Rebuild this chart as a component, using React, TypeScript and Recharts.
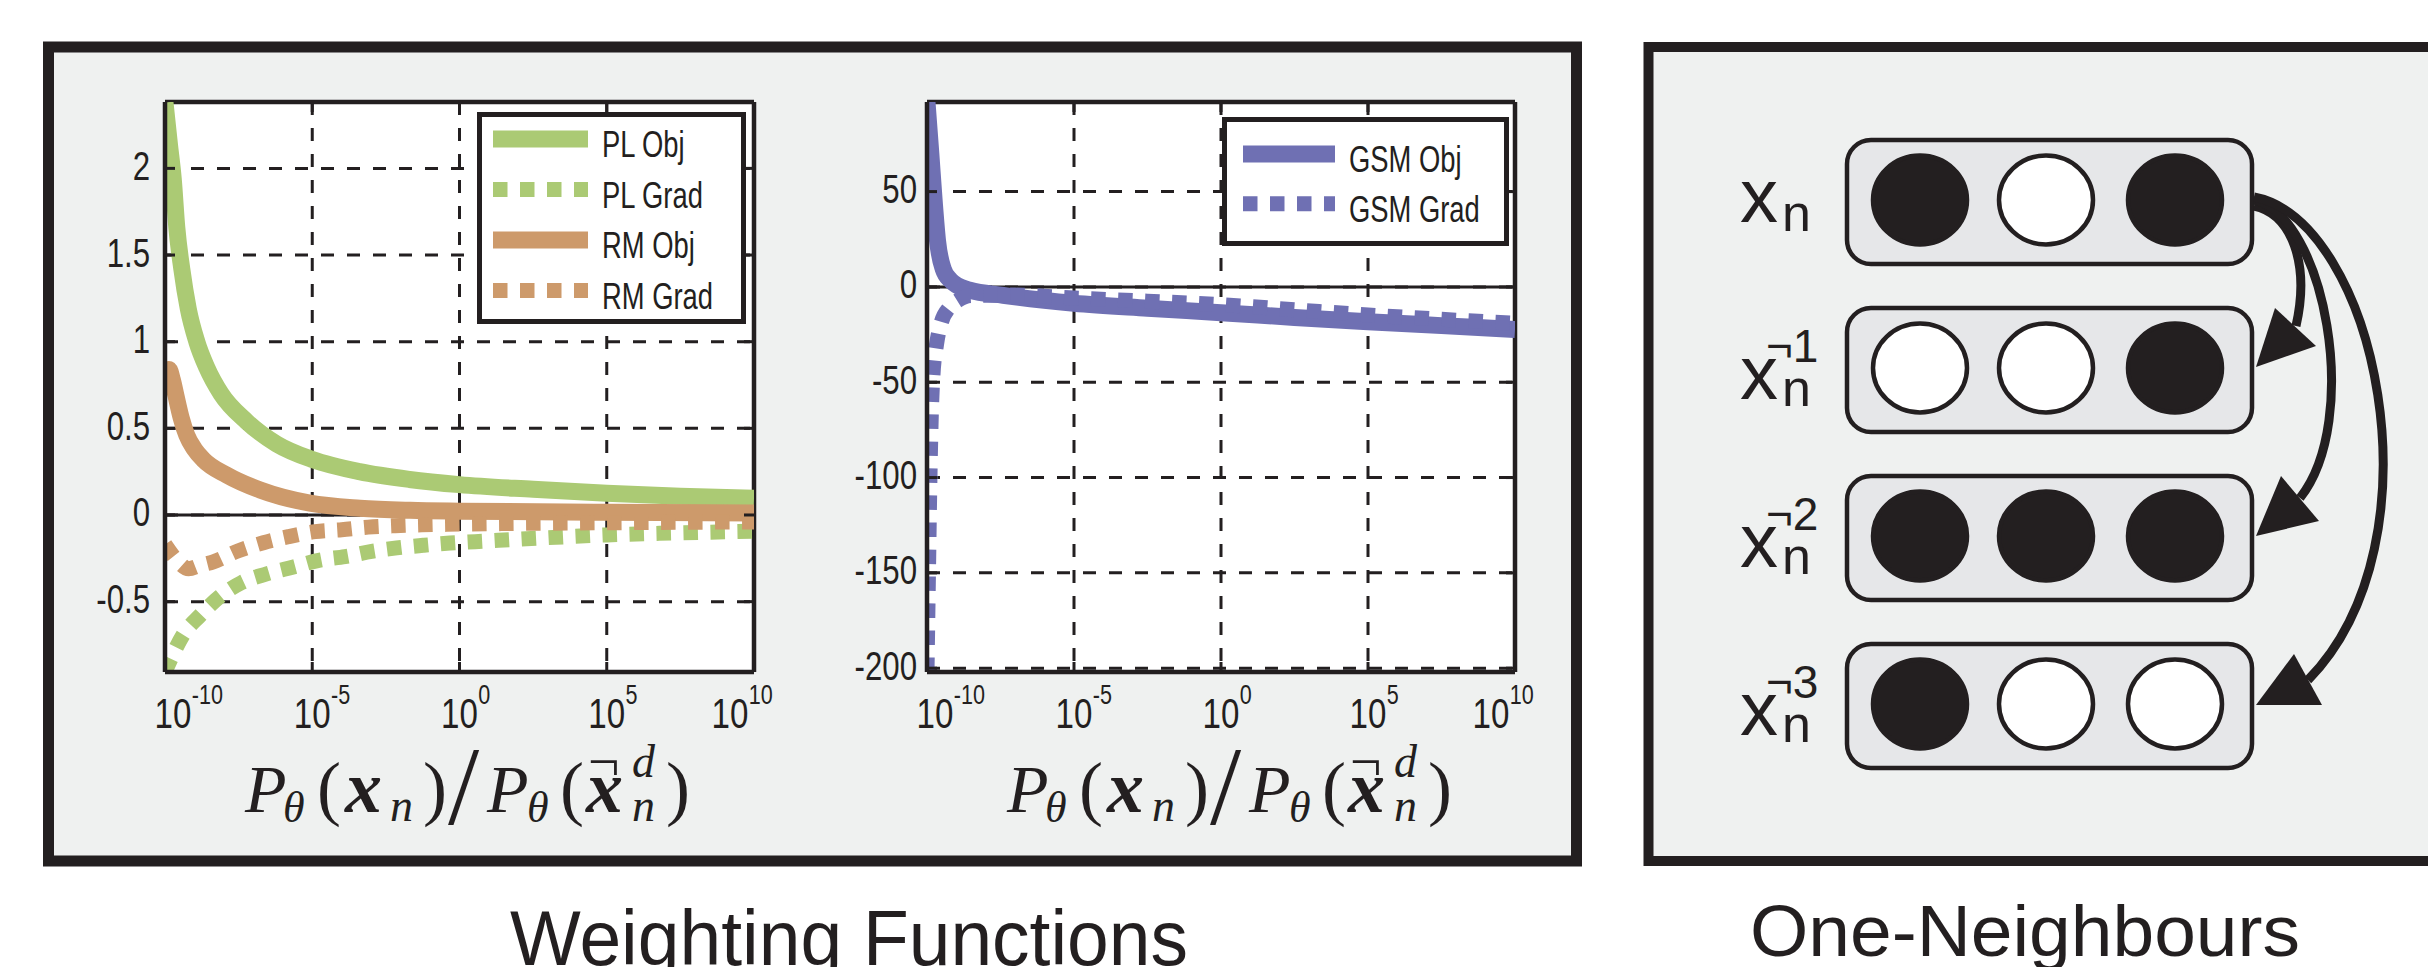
import React from 'react';
import { CartesianGrid, Legend, Line, LineChart, ReferenceLine, XAxis, YAxis } from 'recharts';

const INK = '#231f20';
const PANEL = '#eff1f0';
const BOX = '#e6e7e9';
const GREEN = '#abca74';
const BROWN = '#cd9a6b';
const PURPLE = '#6f70b3';
const SANS = "'Liberation Sans', Arial, sans-serif";
const SERIF = "'Liberation Serif', 'Times New Roman', serif";
const DOT = '14.5 12.5';
const SOLID_W = 17;
const DOT_W = 15;

// x is the exponent of the ratio, shown as 10^x
const xTicks = [-10, -5, 0, 5, 10];
const xTickLabels = ['-10', '-5', '0', '5', '10'];

const weightTicks = [-0.5, 0, 0.5, 1, 1.5, 2];
const weightDomain = [-0.906, 2.383];
const gsmTicks = [-200, -150, -100, -50, 0, 50];
const gsmDomain = [-202, 97];

const plObj = [
  [-10, 2.38], [-9.85, 2.14], [-9.72, 1.94], [-9.6, 1.66], [-9.43, 1.42], [-9.21, 1.19],
  [-8.92, 1.0], [-8.58, 0.85], [-8.1, 0.7], [-7.23, 0.54], [-6.21, 0.41], [-5, 0.32],
  [-3.4, 0.25], [-1.7, 0.205], [0, 0.175], [2.5, 0.148], [5, 0.125], [7.5, 0.108], [10, 0.096],
];
const plGrad = [
  [-10, -0.906], [-9.8, -0.83], [-9.38, -0.69], [-8.81, -0.58], [-8.13, -0.47], [-7.4, -0.39],
  [-6.55, -0.34], [-5.64, -0.3], [-4.74, -0.26], [-3.89, -0.24], [-2.98, -0.21], [-2.13, -0.19],
  [-1.23, -0.175], [-0.32, -0.162], [0.53, -0.154], [2.75, -0.133], [5, -0.115], [7.5, -0.103], [10, -0.094],
];
const rmObj = [
  [-10, 0.77], [-9.87, 0.84], [-9.75, 0.78], [-9.63, 0.69], [-9.45, 0.56], [-9.26, 0.46],
  [-9.0, 0.38], [-8.7, 0.32], [-7.9, 0.23], [-6.77, 0.144], [-5.08, 0.068], [-3.38, 0.039],
  [-1.68, 0.027], [0, 0.022], [5, 0.016], [10, 0.012],
];
const rmGrad = [
  [-10, -0.17], [-9.6, -0.26], [-9.2, -0.31], [-8.8, -0.29], [-8.36, -0.27], [-7.56, -0.21],
  [-6.66, -0.16], [-5.81, -0.125], [-4.9, -0.096], [-4.0, -0.085], [-3.1, -0.07], [-2.19, -0.062],
  [-1.28, -0.057], [-0.43, -0.054], [2.5, -0.048], [5, -0.045], [7.5, -0.042], [10, -0.04],
];
const gsmObj = [
  [-10, 97], [-9.87, 70], [-9.76, 46], [-9.64, 24], [-9.45, 9.5], [-9.2, 3.5], [-9, 1],
  [-8.55, -1.7], [-7.41, -4.4], [-5, -8.6], [-2.5, -11.2], [0, -13.5], [2.5, -16], [5, -18.3],
  [7.5, -20.3], [10, -22.3],
];
const gsmGrad = [
  [-10, -202], [-9.95, -150], [-9.9, -100], [-9.85, -65], [-9.8, -47], [-9.68, -30.6],
  [-9.51, -18.4], [-9.25, -11], [-8.94, -7], [-8.5, -4.5], [-7, -4.3], [-5, -5.8], [-2.5, -7.5],
  [0, -9.3], [2.5, -12], [5, -14.7], [7.5, -17], [10, -19.1],
];

// one-neighbour diagram: 1 = filled unit
const neighbourRows = [
  [1, 0, 1],
  [0, 0, 1],
  [1, 1, 1],
  [1, 0, 0],
];
const neighbourSups = ['', '¬1', '¬2', '¬3'];

const pts = (rows: number[][]) => rows.map(([e, v]) => ({ e, v }));

type Series = { name: string; color: string; dashed: boolean; data: { e: number; v: number }[] };

const weightSeries: Series[] = [
  { name: 'PL Obj', color: GREEN, dashed: false, data: pts(plObj) },
  { name: 'PL Grad', color: GREEN, dashed: true, data: pts(plGrad) },
  { name: 'RM Obj', color: BROWN, dashed: false, data: pts(rmObj) },
  { name: 'RM Grad', color: BROWN, dashed: true, data: pts(rmGrad) },
];
const gsmSeries: Series[] = [
  { name: 'GSM Obj', color: PURPLE, dashed: false, data: pts(gsmObj) },
  { name: 'GSM Grad', color: PURPLE, dashed: true, data: pts(gsmGrad) },
];

const PLOT_W = 589;
const PLOT_H = 570;

const XTick = (props: any) => {
  const { x, y, payload } = props;
  const v = payload.value;
  const shift = v === -10 ? 8 : v === 10 ? -24 : 0;
  const label = xTickLabels[xTicks.indexOf(v)];
  return (
    <g>
      <line x1={x} x2={x} y1={y} y2={y - 10} stroke={INK} strokeWidth={3} />
      <line x1={x} x2={x} y1={y - PLOT_H} y2={y - PLOT_H + 10} stroke={INK} strokeWidth={3} />
      <g transform={`translate(${x + shift} ${y + 56}) scale(0.77 1)`} fontFamily={SANS} fill={INK}>
        <text textAnchor="middle" fontSize={43}>10</text>
        <text x={24.5} y={-24} fontSize={28}>{label}</text>
      </g>
    </g>
  );
};

const makeYTick = (gap: number) => (props: any) => {
  const { x, y, payload } = props;
  return (
    <g>
      <line x1={x} x2={x + 10} y1={y} y2={y} stroke={INK} strokeWidth={3} />
      <line x1={x + PLOT_W - 10} x2={x + PLOT_W} y1={y} y2={y} stroke={INK} strokeWidth={3} />
      <text
        transform={`translate(${x - gap} ${y + 11.5}) scale(0.78 1)`}
        textAnchor="end"
        fontSize={40}
        fontFamily={SANS}
        fill={INK}
      >
        {String(payload.value)}
      </text>
    </g>
  );
};

type LegendLayout = { w: number; h: number; x0: number; x1: number; y0: number; step: number; tx: number };

const LegendPanel = ({ items, lay }: { items: Series[]; lay: LegendLayout }) => (
  <svg width={lay.w} height={lay.h} style={{ display: 'block' }}>
    <rect x={2.5} y={2.5} width={lay.w - 5} height={lay.h - 5} fill="#fff" stroke={INK} strokeWidth={5} />
    {items.map((s, i) => {
      const y = lay.y0 + i * lay.step;
      return (
        <g key={s.name}>
          <line
            x1={lay.x0}
            x2={lay.x1}
            y1={y}
            y2={y}
            stroke={s.color}
            strokeWidth={s.dashed ? DOT_W : SOLID_W}
            strokeDasharray={s.dashed ? DOT : undefined}
          />
          <text
            transform={`translate(${lay.tx} ${y + 18}) scale(0.74 1)`}
            fontSize={37}
            fontFamily={SANS}
            fill={INK}
          >
            {s.name}
          </text>
        </g>
      );
    })}
  </svg>
);

type PanelProps = {
  left: number;
  marginLeft: number;
  marginRight: number;
  series: Series[];
  domain: number[];
  ticks: number[];
  gap: number;
  legendPos: { left: number; top: number };
  lay: LegendLayout;
};

const Panel = ({ left, marginLeft, marginRight, series, domain, ticks, gap, legendPos, lay }: PanelProps) => (
  <div style={{ position: 'absolute', left, top: 0 }}>
    <LineChart width={800} height={760} margin={{ top: 102, right: marginRight, bottom: 8, left: marginLeft }}>
      <CartesianGrid stroke={INK} strokeWidth={3} strokeDasharray="13 13" fill="#ffffff" fillOpacity={1} />
      <XAxis
        dataKey="e"
        type="number"
        domain={[-10, 10]}
        ticks={xTicks}
        interval={0}
        allowDataOverflow
        height={80}
        axisLine={{ stroke: INK, strokeWidth: 4.5 }}
        tickLine={false}
        tickSize={0}
        tickMargin={0}
        tick={XTick}
      />
      <YAxis
        type="number"
        domain={domain}
        ticks={ticks}
        interval={0}
        allowDataOverflow
        width={100}
        axisLine={{ stroke: INK, strokeWidth: 4.5 }}
        tickLine={false}
        tickSize={0}
        tickMargin={0}
        tick={makeYTick(gap)}
      />
      <ReferenceLine y={0} stroke={INK} strokeWidth={3} />
      <ReferenceLine y={domain[1]} stroke={INK} strokeWidth={4.5} />
      <ReferenceLine x={10} stroke={INK} strokeWidth={4.5} />
      {series.map((s) => (
        <Line
          key={s.name}
          name={s.name}
          data={s.data}
          dataKey="v"
          type="monotone"
          stroke={s.color}
          strokeWidth={s.dashed ? DOT_W : SOLID_W}
          strokeDasharray={s.dashed ? DOT : undefined}
          strokeLinecap="butt"
          strokeLinejoin="round"
          dot={false}
          activeDot={false}
          isAnimationActive={false}
        />
      ))}
      <Legend
        layout="horizontal"
        verticalAlign="middle"
        align="center"
        wrapperStyle={{ left: legendPos.left, top: legendPos.top, width: lay.w, height: lay.h }}
        content={() => <LegendPanel items={series} lay={lay} />}
      />
    </LineChart>
  </div>
);

const RatioLabel = ({ x0 }: { x0: number }) => (
  <g fill={INK} fontFamily={SERIF}>
    <text x={x0} y={812} fontSize={68} fontStyle="italic">P</text>
    <text x={x0 + 38} y={822} fontSize={44} fontStyle="italic">θ</text>
    <text x={x0 + 72} y={812} fontSize={72}>(</text>
    <text x={x0 + 100} y={812} fontSize={74} fontStyle="italic" fontWeight="bold">x</text>
    <text x={x0 + 145} y={821} fontSize={46} fontStyle="italic">n</text>
    <text x={x0 + 178} y={812} fontSize={72}>)</text>
    <text x={x0 + 203} y={824} fontSize={112}>/</text>
    <text x={x0 + 242} y={812} fontSize={68} fontStyle="italic">P</text>
    <text x={x0 + 282} y={822} fontSize={44} fontStyle="italic">θ</text>
    <text x={x0 + 315} y={812} fontSize={72}>(</text>
    <text x={x0 + 341} y={812} fontSize={74} fontStyle="italic" fontWeight="bold">x</text>
    <text x={x0 + 343} y={781} fontSize={56}>¬</text>
    <text x={x0 + 387} y={777} fontSize={46} fontStyle="italic">d</text>
    <text x={x0 + 387} y={821} fontSize={46} fontStyle="italic">n</text>
    <text x={x0 + 421} y={812} fontSize={72}>)</text>
  </g>
);

const rowCenters = [202, 370, 538, 706];
const unitX = [1920, 2046, 2175];

const Neighbours = () => (
  <g>
    {neighbourRows.map((row, r) => {
      const cy = rowCenters[r];
      const sup = neighbourSups[r];
      return (
        <g key={r}>
          <rect x={1847} y={cy - 62} width={405} height={124} rx={24} fill={BOX} stroke={INK} strokeWidth={4.5} />
          {row.map((on, c) => (
            <ellipse
              key={c}
              cx={unitX[c]}
              cy={cy - 2}
              rx={47}
              ry={44.5}
              fill={on ? INK : '#ffffff'}
              stroke={INK}
              strokeWidth={4.5}
            />
          ))}
          <g fontFamily={SANS} fill={INK}>
            <text x={1740} y={sup ? cy + 29 : cy + 20} fontSize={76}>x</text>
            <text x={1782} y={sup ? cy + 36 : cy + 29} fontSize={52}>n</text>
            {sup && (
              <text x={1766} y={cy - 8} fontSize={46}>{sup}</text>
            )}
          </g>
        </g>
      );
    })}
    <g stroke={INK} strokeWidth={9} fill="none">
      <path d="M 2254 206 C 2292 214, 2310 264, 2296 326" />
      <path d="M 2254 200 C 2325 215, 2362 420, 2300 498" />
      <path d="M 2254 197 C 2375 220, 2445 540, 2308 680" />
    </g>
    <g fill={INK}>
      <polygon points="2256,367 2275,308 2316,346" />
      <polygon points="2256,536 2281,476 2319,521" />
      <polygon points="2256,705 2294,654 2322,705" />
    </g>
  </g>
);

const leftLegend: LegendLayout = { w: 269, h: 212, x0: 16, x1: 111, y0: 27, step: 50.5, tx: 125 };
const midLegend: LegendLayout = { w: 287, h: 129, x0: 21, x1: 113, y0: 37, step: 49.7, tx: 127 };

export default function App() {
  return (
    <div style={{ position: 'absolute', left: 0, top: 0, width: 2428, height: 967, overflow: 'hidden', background: '#fff' }}>
      <svg width={2428} height={967} style={{ position: 'absolute', left: 0, top: 0 }}>
        <rect x={48.5} y={47} width={1528} height={814} fill={PANEL} stroke={INK} strokeWidth={11} />
        <rect x={1648.5} y={47} width={900} height={814} fill={PANEL} stroke={INK} strokeWidth={10} />
        <RatioLabel x0={245} />
        <RatioLabel x0={1007} />
        <Neighbours />
        <text x={510} y={965} fontSize={77} fontFamily={SANS} fill={INK} textLength={678} lengthAdjust="spacingAndGlyphs">
          Weighting Functions
        </text>
        <text x={1750} y={956} fontSize={72} fontFamily={SANS} fill={INK} textLength={550} lengthAdjust="spacingAndGlyphs">
          One-Neighbours
        </text>
      </svg>
      <Panel
        left={0}
        marginLeft={65}
        marginRight={46}
        series={weightSeries}
        domain={weightDomain}
        ticks={weightTicks}
        gap={15}
        legendPos={{ left: 477, top: 112 }}
        lay={leftLegend}
      />
      <Panel
        left={780}
        marginLeft={47}
        marginRight={65}
        series={gsmSeries}
        domain={gsmDomain}
        ticks={gsmTicks}
        gap={10}
        legendPos={{ left: 442, top: 117 }}
        lay={midLegend}
      />
    </div>
  );
}
